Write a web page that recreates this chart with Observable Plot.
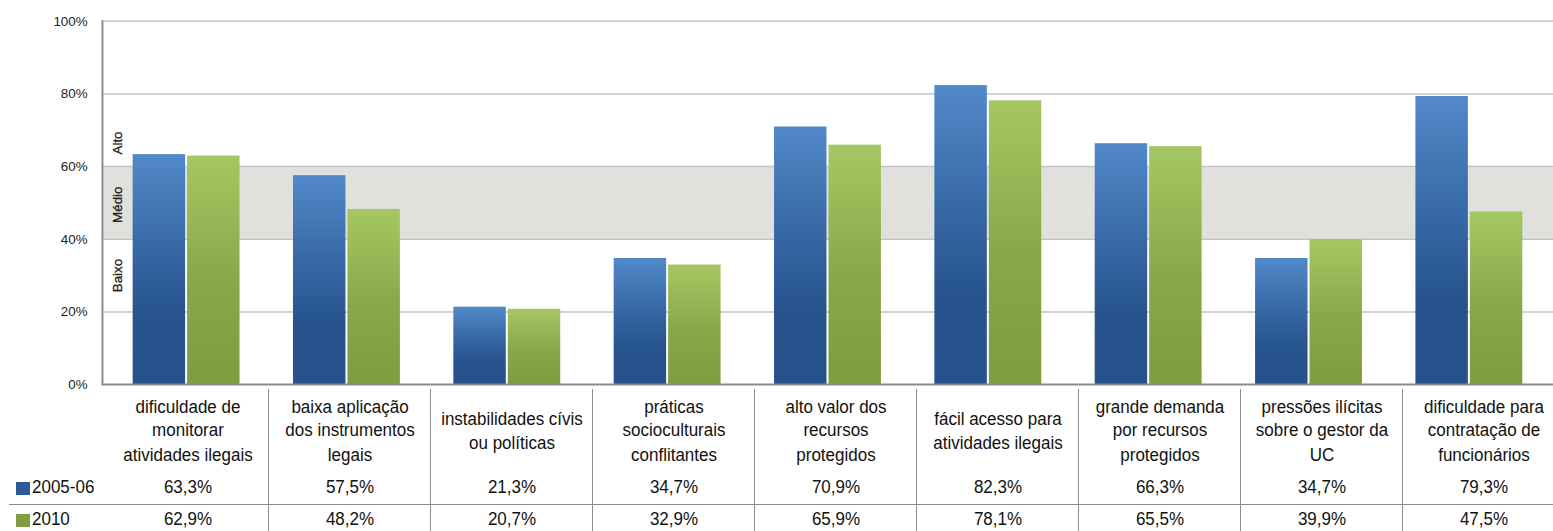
<!DOCTYPE html>
<html>
<head>
<meta charset="utf-8">
<script src="https://cdn.jsdelivr.net/npm/d3@7"></script>
<script src="https://cdn.jsdelivr.net/npm/@observablehq/plot@0.6"></script>
<style>
  html, body { margin: 0; padding: 0; background: #fff; overflow: hidden; }
  #wrap { position: relative; width: 1553px; height: 531px; overflow: hidden; }
  #wrap svg { position: absolute; left: 0; top: 0; }
  .cell { position: absolute; text-align: center; color: #111;
          font-family: "Liberation Sans", Arial, sans-serif; font-size: 17px; }
  .cell span { display: inline-block; transform: scaleY(1.1); transform-origin: 50% 50%; }
  .lab { white-space: pre-line; display: flex; align-items: center; justify-content: center; }
  .lab span { line-height: 21.4px; }
  .vline { position: absolute; width: 0; border-left: 1.5px solid #8c8c8c; }
  .hline { position: absolute; height: 0; border-top: 1.5px solid #8c8c8c; }
  .key { position: absolute; width: 14px; height: 13px; }
</style>
</head>
<body>
<div id="wrap"></div>
<script>
const categories = [
  "dificuldade de\nmonitorar\natividades ilegais",
  "baixa aplicação\ndos instrumentos\nlegais",
  "instabilidades cívis\nou políticas",
  "práticas\nsocioculturais\nconflitantes",
  "alto valor dos\nrecursos\nprotegidos",
  "fácil acesso para\natividades ilegais",
  "grande demanda\npor recursos\nprotegidos",
  "pressões ilícitas\nsobre o gestor da\nUC",
  "dificuldade para\ncontratação de\nfuncionários"
];
const series = ["2005-06", "2010"];
const values2005 = [63.3, 57.5, 21.3, 34.7, 70.9, 82.3, 66.3, 34.7, 79.3];
const values2010 = [62.9, 48.2, 20.7, 32.9, 65.9, 78.1, 65.5, 39.9, 47.5];
const yTicks = [0, 20, 40, 60, 80, 100];
const levelLabels = ["Baixo", "Médio", "Alto"];
const levelPositions = [30, 49.5, 66.5];
const mediumBand = [{lo: 40, hi: 60}];

const seriesColors = ["url(#gradBlue)", "url(#gradGreen)"];
const keyColors = ["#2b5c98", "#7f9e3f"];

const data = categories.flatMap((c, i) => [
  {cat: c, series: series[0], value: values2005[i]},
  {cat: c, series: series[1], value: values2010[i]}
]);
const levels = levelLabels.map((l, i) => ({label: l, y: levelPositions[i]}));

const fmt = v => v.toFixed(1).replace(".", ",") + "%";

const plot = Plot.plot({
  width: 1569,
  height: 392,
  marginLeft: 103,
  marginRight: 0,
  marginTop: 21,
  marginBottom: 4,
  x: {domain: categories, padding: 0, axis: null},
  y: {domain: [0, 100], axis: null},
  color: {domain: series, range: seriesColors},
  style: {background: "transparent", fontFamily: "Liberation Sans, Arial, sans-serif", overflow: "visible"},
  marks: [
    Plot.rectY(mediumBand, {y1: "lo", y2: "hi", fill: "#e0e0dd"}),
    Plot.gridY(yTicks.slice(1), {stroke: "#c3c3c3", strokeOpacity: 1, strokeWidth: 1.5}),
    Plot.axisY(yTicks, {tickSize: 0, tickPadding: 15, tickFormat: d => d + "%", fontSize: 13.5, fill: "#222"}),
    Plot.barY(data.filter(d => d.series === series[0]), {x: "cat", y: "value", fill: "series", insetLeft: 27, insetRight: 82}),
    Plot.barY(data.filter(d => d.series === series[1]), {x: "cat", y: "value", fill: "series", insetLeft: 82, insetRight: 27}),
    Plot.frame({anchor: "left", stroke: "#8c8c8c", strokeWidth: 2}),
    Plot.ruleY([0], {stroke: "#8c8c8c", strokeWidth: 2}),
    Plot.text(levels, {y: "y", text: "label", frameAnchor: "left", textAnchor: "middle", dx: 15, rotate: -90, fontSize: 13.5, fill: "#222", stroke: "#222", strokeWidth: 0.3})
  ]
});

// gradients for the bars
const defs = d3.select(plot).insert("defs", ":first-child");
const gB = defs.append("linearGradient").attr("id", "gradBlue").attr("x1", 0).attr("y1", 0).attr("x2", 0).attr("y2", 1);
gB.append("stop").attr("offset", "0%").attr("stop-color", "#5289c9");
gB.append("stop").attr("offset", "45%").attr("stop-color", "#3565a3");
gB.append("stop").attr("offset", "70%").attr("stop-color", "#27548c");
gB.append("stop").attr("offset", "100%").attr("stop-color", "#25528a");
const gG = defs.append("linearGradient").attr("id", "gradGreen").attr("x1", 0).attr("y1", 0).attr("x2", 0).attr("y2", 1);
gG.append("stop").attr("offset", "0%").attr("stop-color", "#a4c763");
gG.append("stop").attr("offset", "55%").attr("stop-color", "#88a848");
gG.append("stop").attr("offset", "100%").attr("stop-color", "#7e9c40");

const wrap = document.getElementById("wrap");
wrap.appendChild(plot);

// data table below the chart, aligned with the x scale
const xs = plot.scale("x");
const bw = xs.bandwidth;
const add = (cls, style, text) => {
  const d = document.createElement("div");
  d.className = cls;
  Object.assign(d.style, style);
  if (text != null) {
    const s = document.createElement("span");
    s.textContent = text;
    d.appendChild(s);
  }
  wrap.appendChild(d);
  return d;
};
categories.forEach((c, i) => {
  const x0 = xs.apply(c);
  add("cell lab", {left: x0 + "px", width: bw + "px", top: "396px", height: "71px"}, c);
  add("cell", {left: x0 + "px", width: bw + "px", top: "477px", lineHeight: "22px"}, fmt(values2005[i]));
  add("cell", {left: x0 + "px", width: bw + "px", top: "509px", lineHeight: "22px"}, fmt(values2010[i]));
  if (i > 0) add("vline", {left: (x0 - 0.75) + "px", top: "389px", height: "142px"});
});
add("hline", {left: "9px", width: "1560px", top: "503.5px"});
series.forEach((s, i) => {
  const top = i === 0 ? 477 : 509;
  add("key", {left: "16px", top: (top + 5) + "px", background: keyColors[i]});
  add("cell", {left: "32px", top: top + "px", lineHeight: "22px", textAlign: "left"}, s);
});
</script>
</body>
</html>
